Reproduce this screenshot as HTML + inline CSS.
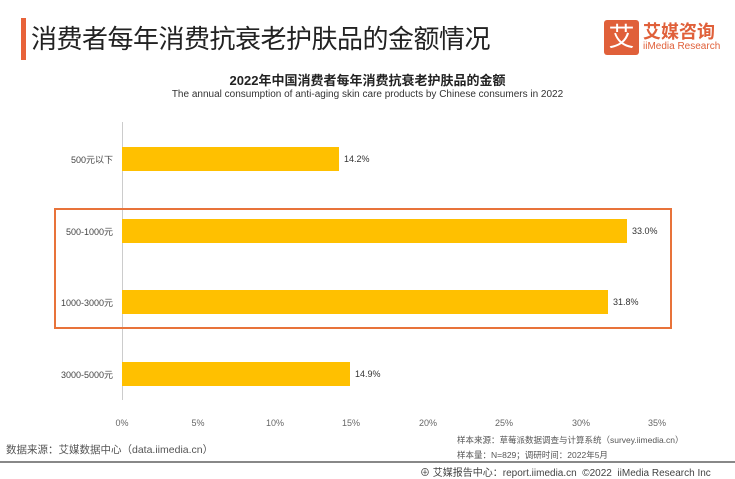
<!DOCTYPE html>
<html><head><meta charset="utf-8"><style>
body{margin:0;width:735px;height:478px;background:#fff;position:relative;overflow:hidden;font-family:"Liberation Sans","Noto Sans CJK SC",sans-serif}
.a{position:absolute;white-space:nowrap}
.bar{position:absolute;left:122px;height:24px;background:#FFC000}
.cat{position:absolute;right:622px;font-size:9px;color:#444}
.val{position:absolute;font-size:9px;color:#333}
.tk{position:absolute;top:418px;font-size:9px;color:#666;width:40px;text-align:center}
</style></head><body>
<div class="a" style="left:21px;top:18px;width:5px;height:42px;background:#E8633A"></div>
<div class="a" style="left:31px;top:19px;font-size:26px;color:#222;letter-spacing:-0.5px">消费者每年消费抗衰老护肤品的金额情况</div>
<div class="a" style="left:604px;top:20px;width:35px;height:35px;background:#E0603A;border-radius:3px;color:#fff;font-size:26px;line-height:35px;text-align:center">艾</div>
<div class="a" style="left:643px;top:18px;font-size:18px;color:#E0603A;font-weight:bold">艾媒咨询</div>
<div class="a" style="left:643px;top:41px;font-size:10px;color:#E0603A">iiMedia Research</div>
<div class="a" style="left:0;width:735px;text-align:center;top:70px;font-size:13px;font-weight:bold;color:#222">2022年中国消费者每年消费抗衰老护肤品的金额</div>
<div class="a" style="left:0;width:735px;text-align:center;top:89px;font-size:10px;color:#333">The annual consumption of anti-aging skin care products by Chinese consumers in 2022</div>
<div class="a" style="left:122px;top:122px;width:1px;height:278px;background:#ccc"></div>
<div class="bar" style="top:147px;width:217px"></div>
<div class="bar" style="top:219px;width:505px"></div>
<div class="bar" style="top:290px;width:486px"></div>
<div class="bar" style="top:362px;width:228px"></div>
<div class="cat" style="top:153px">500元以下</div>
<div class="cat" style="top:225px">500-1000元</div>
<div class="cat" style="top:296px">1000-3000元</div>
<div class="cat" style="top:368px">3000-5000元</div>
<div class="val" style="left:344px;top:154px">14.2%</div>
<div class="val" style="left:632px;top:226px">33.0%</div>
<div class="val" style="left:613px;top:297px">31.8%</div>
<div class="val" style="left:355px;top:369px">14.9%</div>
<div class="a" style="left:54px;top:208px;width:614px;height:117px;border:2px solid #E8733A"></div>
<div class="tk" style="left:102px">0%</div><div class="tk" style="left:178px">5%</div><div class="tk" style="left:255px">10%</div><div class="tk" style="left:331px">15%</div><div class="tk" style="left:408px">20%</div><div class="tk" style="left:484px">25%</div><div class="tk" style="left:561px">30%</div><div class="tk" style="left:637px">35%</div>
<div class="a" style="left:6px;top:442px;font-size:10.5px;color:#555">数据来源：艾媒数据中心（data.iimedia.cn）</div>
<div class="a" style="left:457px;top:434px;font-size:8.5px;color:#555">样本来源：草莓派数据调查与计算系统（survey.iimedia.cn）</div>
<div class="a" style="left:457px;top:449px;font-size:8.5px;color:#555">样本量：N=829；调研时间：2022年5月</div>
<div class="a" style="left:0;top:461px;width:735px;height:2px;background:#888"></div>
<div class="a" style="left:420px;top:464px;font-size:10px;color:#444">⊕ 艾媒报告中心：report.iimedia.cn &nbsp;©2022 &nbsp;iiMedia Research Inc</div>
</body></html>
